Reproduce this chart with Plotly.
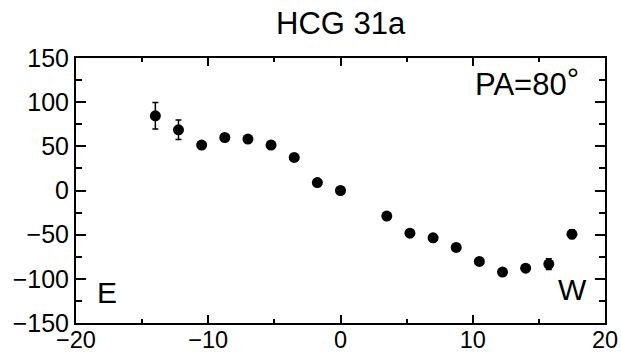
import plotly.graph_objects as go

title_text = "HCG 31a"
pos = [-14.0, -12.25, -10.5, -8.75, -7.0, -5.25, -3.5, -1.75, 0.0,
       3.5, 5.25, 7.0, 8.75, 10.5, 12.25, 14.0, 15.75, 17.5]
vel = [84.6, 68.7, 51.4, 60.0, 58.2, 51.4, 37.4, 9.0, 0.0,
       -29.0, -48.3, -53.6, -64.5, -80.3, -92.4, -87.9, -83.3, -49.4]
err = [15.0, 11.0, 3.0, 3.0, 3.0, 3.0, 3.0, 3.0, 3.0,
       3.0, 3.0, 3.0, 3.0, 3.0, 3.0, 3.0, 6.0, 5.0]
x_ticks = [-20, -10, 0, 10, 20]
y_ticks = [-150, -100, -50, 0, 50, 100, 150]

FONT = "Liberation Sans, Arial, sans-serif"

fig = go.Figure()
fig.add_trace(go.Scatter(
    x=pos, y=vel, mode="markers",
    marker=dict(color="black", size=11),
    error_y=dict(type="data", array=err, visible=True, color="black",
                 thickness=1.5, width=3),
    showlegend=False,
))

fig.update_layout(
    width=621, height=354,
    margin=dict(l=76, r=16, t=58, b=31, autoexpand=False),
    paper_bgcolor="white", plot_bgcolor="white",
    font=dict(family=FONT, color="black", size=25),
    showlegend=False,
    annotations=[
        dict(text=title_text, xref="paper", yref="paper", x=0.5, y=1.13,
             xanchor="center", yanchor="middle", showarrow=False,
             font=dict(size=31, family=FONT, color="black")),
        dict(text="PA=80<span style='baseline-shift:5px'>°</span>",
             xref="paper", yref="paper", x=0.955, y=0.91,
             xanchor="right", yanchor="middle", showarrow=False,
             font=dict(size=31, family=FONT, color="black")),
        dict(text="E", xref="paper", yref="paper", x=0.035, y=0.115,
             xanchor="left", yanchor="middle", showarrow=False,
             font=dict(size=30, family=FONT, color="black")),
        dict(text="W", xref="paper", yref="paper", x=0.97, y=0.128,
             xanchor="right", yanchor="middle", showarrow=False,
             font=dict(size=30, family=FONT, color="black")),
    ],
)

fig.update_xaxes(
    range=[-20, 20], tickvals=x_ticks, ticks="inside", ticklen=8, tickwidth=1.5,
    tickcolor="black", showline=True, linecolor="black", linewidth=2,
    mirror="ticks", showgrid=False, zeroline=False, automargin=False,
    ticklabelstandoff=-5,
    tickfont=dict(size=23.5, family=FONT, color="black"),
    minor=dict(tickvals=[-15, -5, 5, 15], ticks="inside", ticklen=4,
               tickwidth=1.5, tickcolor="black", showgrid=False),
)
fig.update_yaxes(
    range=[-150, 150], tickvals=y_ticks, ticks="inside", ticklen=10, tickwidth=1.5,
    tickcolor="black", showline=True, linecolor="black", linewidth=2,
    mirror="ticks", showgrid=False, zeroline=False, automargin=False,
    tickfont=dict(size=25, family=FONT, color="black"),
    minor=dict(tickvals=[-125, -75, -25, 25, 75, 125], ticks="inside", ticklen=6,
               tickwidth=1.5, tickcolor="black", showgrid=False),
)

fig.write_html("out.html")
